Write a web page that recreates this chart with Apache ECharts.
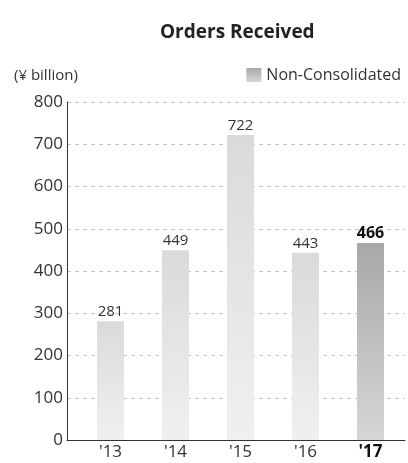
<!DOCTYPE html>
<html>
<head>
<meta charset="utf-8">
<script src="https://cdn.jsdelivr.net/npm/echarts@6/dist/echarts.min.js"></script>
<style>
  html, body { margin: 0; padding: 0; background: #fff; }
  #chart { width: 408px; height: 463px; }
</style>
</head>
<body>
<div id="chart"></div>
<script>
var years = ["'13", "'14", "'15", "'16", "'17"];
var orders = [281, 449, 722, 443, 466];
var yTicks = { min: 0, max: 800, interval: 100 };

var FONT = '"Open Sans", "Noto Sans", sans-serif';
var lightBar = new echarts.graphic.LinearGradient(0, 0, 0, 1, [
  { offset: 0, color: "#dadadb" },
  { offset: 1, color: "#f0f0f0" },
]);
var darkBar = new echarts.graphic.LinearGradient(0, 0, 0, 1, [
  { offset: 0, color: "#a8a8aa" },
  { offset: 1, color: "#d6d6d8" },
]);
var lastIdx = years.length - 1;

var chart = echarts.init(document.getElementById("chart"));
var option = {
  animation: false,
  title: [
    {
      text: "Orders Received",
      left: 155,
      top: 18,
      textStyle: { fontFamily: FONT, fontSize: 19, fontWeight: "bold", color: "#222" },
    },
    {
      text: "(¥ billion)",
      left: 9,
      top: 63,
      textStyle: { fontFamily: FONT, fontSize: 15, fontWeight: "normal", color: "#333" },
    },
  ],
  legend: {
    right: 2,
    top: 62,
    icon: "rect",
    itemWidth: 15,
    itemHeight: 14,
    itemGap: 6,
    textStyle: { fontFamily: FONT, fontSize: 16, color: "#333" },
    data: [{ name: "Non-Consolidated", itemStyle: { color: darkBar } }],
  },
  grid: [
    { left: 78, right: 5, top: 102, bottom: 23 },
    { left: 67, right: 3, top: 102, bottom: 23 },
  ],
  xAxis: [
    {
      type: "category",
      gridIndex: 0,
      data: years,
      axisLine: { show: false },
      axisTick: { show: false },
      axisLabel: {
        interval: 0,
        hideOverlap: false,
        margin: 4,
        fontFamily: FONT,
        fontSize: 17,
        color: "#333",
        formatter: function (v, i) {
          return i === lastIdx ? "{b|" + v + "}" : v;
        },
        rich: { b: { fontFamily: FONT, fontSize: 17, fontWeight: "bold", color: "#111" } },
      },
    },
    {
      type: "category",
      gridIndex: 1,
      data: [""],
      axisLine: { show: true, lineStyle: { color: "#333", width: 1 } },
      axisTick: { show: false },
      axisLabel: { show: false },
    },
  ],
  yAxis: [
    {
      type: "value",
      gridIndex: 0,
      min: yTicks.min,
      max: yTicks.max,
      interval: yTicks.interval,
      show: false,
    },
    {
      type: "value",
      gridIndex: 1,
      min: yTicks.min,
      max: yTicks.max,
      interval: yTicks.interval,
      axisLine: { show: true, lineStyle: { color: "#333", width: 1 } },
      axisTick: { show: false },
      axisLabel: { margin: 4, fontFamily: FONT, fontSize: 17, color: "#333" },
      splitLine: { show: true, lineStyle: { color: "#c4c4c4", type: [4, 4], width: 1 } },
    },
  ],
  series: [
    {
      name: "Non-Consolidated",
      type: "bar",
      xAxisIndex: 0,
      yAxisIndex: 0,
      barWidth: 27,
      itemStyle: { color: lightBar },
      label: {
        show: true,
        position: "top",
        distance: 2,
        fontFamily: FONT,
        fontSize: 15,
        color: "#333",
      },
      data: orders.map(function (v, i) {
        if (i !== lastIdx) return v;
        return {
          value: v,
          itemStyle: { color: darkBar },
          label: { fontWeight: "bold", fontSize: 16, color: "#111" },
        };
      }),
    },
  ],
};
chart.setOption(option);
</script>
</body>
</html>
